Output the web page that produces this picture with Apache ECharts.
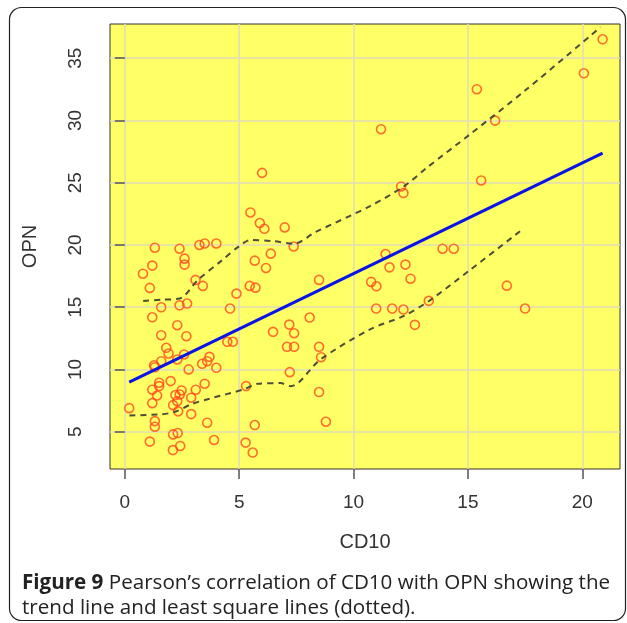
<!DOCTYPE html>
<html>
<head>
<meta charset="utf-8">
<script src="https://cdn.jsdelivr.net/npm/echarts@6/dist/echarts.min.js"></script>
<style>
html,body{margin:0;padding:0;background:#fff;}
#c{width:627px;height:623px;}
</style>
</head>
<body>
<div id="c"></div>
<script>
const xTicks = [0, 5, 10, 15, 20];
const yTicks = [5, 10, 15, 20, 25, 30, 35];

const cd10 = [0.19,0.79,1.09,1.20,1.31,1.20,1.59,1.59,1.81,1.91,1.59,1.28,1.31,2.00,1.50,1.50,1.20,1.41,1.20,1.31,1.31,1.09,
  2.29,2.11,2.33,2.11,2.31,2.42,2.10,2.48,2.40,2.21,2.90,2.90,2.79,2.59,2.29,3.10,3.49,3.38,3.60,3.70,4.00,3.60,3.90,
  5.30,5.68,5.28,5.59,2.69,2.29,2.39,2.72,4.60,4.88,4.48,4.72,3.09,3.41,2.61,2.61,2.39,3.26,3.49,4.00,
  5.46,5.71,5.68,6.17,6.38,5.49,5.90,6.10,6.00,6.48,6.99,7.38,7.19,7.40,7.09,7.40,7.21,8.08,8.49,8.49,8.58,8.49,8.79,
  10.77,11.00,11.20,11.40,11.57,10.99,11.69,12.18,12.08,12.18,12.27,12.49,12.68,13.29,13.89,14.38,
  15.39,15.58,16.19,16.70,17.50,20.07,20.89];
const opn = [6.89,17.69,16.55,18.34,19.78,14.19,14.99,12.75,11.74,11.28,10.66,10.34,10.18,9.06,8.93,8.66,8.37,7.91,7.29,5.85,5.40,4.20,
  7.45,7.13,6.63,4.78,4.89,3.85,3.52,8.31,7.99,7.94,7.73,6.41,10.00,11.20,10.80,8.37,8.85,10.45,10.66,11.01,10.13,5.72,4.33,
  8.66,5.53,4.12,3.32,12.67,13.55,15.15,15.29,14.89,16.09,12.22,12.22,17.19,16.71,18.90,18.42,19.70,20.00,20.12,20.12,
  16.71,16.57,18.74,18.15,19.30,22.61,21.76,21.30,25.79,13.02,21.41,19.88,13.60,12.91,11.82,11.82,9.78,14.17,17.19,11.82,10.98,8.18,5.80,
  17.03,16.68,29.30,19.27,18.20,14.89,14.89,14.81,24.70,24.17,18.42,17.29,13.58,15.51,19.70,19.70,
  32.51,25.18,29.99,16.73,14.89,33.79,36.52];

const trendX = [0.19, 20.89];
const trendY = [8.98, 27.37];

const upperX = [0.8,1.6,2.4,3.2,4.2,5.0,5.5,6.5,7.4,8.3,10.7,12.2,13.2,15.1,17.5,20.8];
const upperY = [15.5,15.6,15.7,17.2,18.7,19.9,20.4,20.3,20.1,21.0,23.1,24.7,26.2,28.9,32.4,37.5];

const lowerX = [0.2,1.6,2.2,2.9,3.7,5.2,5.8,6.8,7.25,8.55,10.7,12.2,13.3,15.1,17.35];
const lowerY = [6.3,6.4,6.6,7.2,7.65,8.4,8.85,8.9,8.65,10.8,13.2,14.3,15.5,18.0,21.2];

const zip = (a, b) => a.map((v, i) => [v, b[i]]);

const chart = echarts.init(document.getElementById('c'), null, {renderer: 'canvas'});
const labelFont = {fontFamily: 'Liberation Sans, Arial, sans-serif', fontSize: 19, color: '#333'};
const gridLine = {show: true, lineStyle: {color: '#e0ddb8', width: 1.5}};

chart.setOption({
  animation: false,
  backgroundColor: '#ffffff',
  grid: {left: 110, top: 24, right: 7, bottom: 154, show: true, backgroundColor: '#ffff66', borderColor: '#333', borderWidth: 1},
  xAxis: {
    type: 'value', min: -0.65, max: 21.65,
    name: 'CD10', nameLocation: 'middle', nameGap: 63,
    nameTextStyle: {fontFamily: 'Liberation Sans, Arial, sans-serif', fontSize: 20, color: '#333'},
    axisLine: {show: false},
    axisTick: {show: true, length: 10, inside: false, customValues: xTicks, lineStyle: {color: '#555', width: 1.5}},
    axisLabel: Object.assign({margin: 24, customValues: xTicks}, labelFont),
    splitLine: Object.assign({customValues: xTicks}, gridLine)
  },
  yAxis: {
    type: 'value', min: 2.0, max: 37.75,
    name: 'OPN', nameLocation: 'middle', nameGap: 70, nameRotate: 90,
    nameTextStyle: {fontFamily: 'Liberation Sans, Arial, sans-serif', fontSize: 20, color: '#333'},
    axisLine: {show: false},
    axisTick: {show: true, length: 10, inside: false, customValues: yTicks, lineStyle: {color: '#555', width: 1.5}},
    axisLabel: Object.assign({margin: 25, rotate: 90, customValues: yTicks}, labelFont),
    splitLine: Object.assign({customValues: yTicks}, gridLine)
  },
  series: [
    {
      type: 'scatter', data: zip(cd10, opn), symbol: 'circle', symbolSize: 9, z: 3,
      itemStyle: {color: 'rgba(0,0,0,0)', borderColor: '#ff4a1c', borderWidth: 1.6}
    },
    {
      type: 'line', data: zip(trendX, trendY), showSymbol: false, z: 4,
      lineStyle: {color: '#0a14e6', width: 3}
    },
    {
      type: 'line', data: zip(upperX, upperY), showSymbol: false, smooth: 0.3, z: 4,
      lineStyle: {color: '#4d4d3a', width: 2, type: [6, 5]}
    },
    {
      type: 'line', data: zip(lowerX, lowerY), showSymbol: false, smooth: 0.3, z: 4,
      lineStyle: {color: '#4d4d3a', width: 2, type: [6, 5]}
    }
  ],
  graphic: [
    {
      type: 'rect', silent: true, z: -1,
      shape: {x: 9.5, y: 7.5, width: 616, height: 613, r: 12},
      style: {fill: 'none', stroke: '#222', lineWidth: 1.2}
    },
    {
      type: 'text', left: 22, top: 571, silent: true,
      style: {
        text: '{b|Figure 9} Pearson\u2019s correlation of CD10 with OPN showing the\ntrend line and least square lines (dotted).',
        fontFamily: 'Open Sans, sans-serif', fontSize: 20.6, lineHeight: 24.5, fill: '#222',
        rich: {b: {fontFamily: 'Open Sans, sans-serif', fontSize: 20.6, fontWeight: 'bold', fill: '#222', lineHeight: 24.5}}
      }
    }
  ]
});
</script>
</body>
</html>
